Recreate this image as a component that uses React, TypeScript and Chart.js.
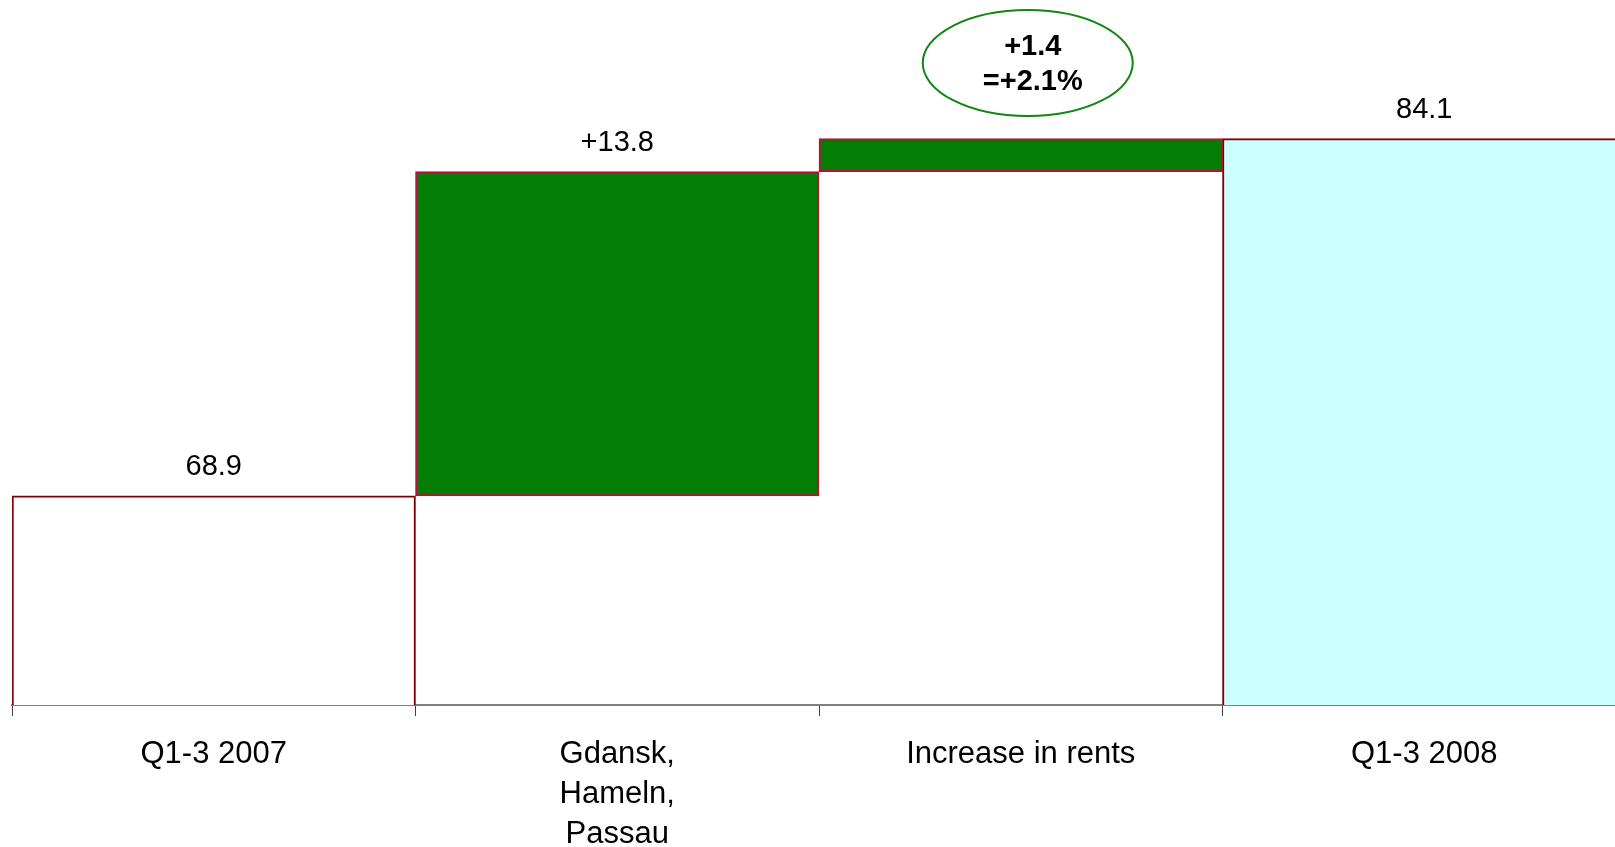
import React, { useEffect, useRef } from "react";
import { Chart, registerables } from "chart.js";

Chart.register(...registerables);

// Waterfall: rental income Q1-3 2007 -> Q1-3 2008
const categories: string[][] = [
  ["Q1-3 2007"],
  ["Gdansk,", "Hameln,", "Passau"],
  ["Increase in rents"],
  ["Q1-3 2008"],
];
const barValues = [68.9, 13.8, 1.4, 84.1];
const barKinds = ["total", "delta", "delta", "total"];
const showValueLabel = [true, true, false, true];
const rentIncreasePct = 2.1;
const calloutBarIndex = 2;
const yMin = 60;
const yMax = 90;

const barFills = ["#FFFFFF", "#037D03", "#037D03", "#CCFFFF"];
const barBorders = ["#800000", "#B8103A", "#B8103A", "#800000"];

const FONT = "'Liberation Sans', Arial, Helvetica, sans-serif";

// totals stand on the axis, deltas float from the running total
function buildBars(): (number | [number, number])[] {
  let running = 0;
  return barValues.map((v, i) => {
    if (barKinds[i] === "total") {
      running = v;
      return v;
    }
    const start = running;
    running = Math.round((running + v) * 10) / 10;
    return [start, running] as [number, number];
  });
}

const valueLabels = barValues.map((v, i) =>
  barKinds[i] === "delta" ? "+" + v.toFixed(1) : v.toFixed(1)
);
const calloutLines = [
  "+" + barValues[calloutBarIndex].toFixed(1),
  "=+" + rentIncreasePct.toFixed(1) + "%",
];

const waterfallText = {
  id: "waterfallText",
  afterDatasetsDraw(chart: any) {
    const ctx: CanvasRenderingContext2D = chart.ctx;
    const meta = chart.getDatasetMeta(0);
    ctx.save();
    ctx.fillStyle = "#000000";
    ctx.textAlign = "center";
    ctx.textBaseline = "alphabetic";
    ctx.font = `29px ${FONT}`;
    meta.data.forEach((bar: any, i: number) => {
      if (!showValueLabel[i]) return;
      const { x, y } = bar.getProps(["x", "y"], true);
      ctx.fillText(valueLabels[i], x, y - 21);
    });

    // callout ellipse above the rent increase bar
    const cb = meta.data[calloutBarIndex].getProps(["x"], true);
    const cx = cb.x + 7;
    const cy = chart.chartArea.top + 63;
    ctx.beginPath();
    ctx.ellipse(cx, cy, 105, 53, 0, 0, Math.PI * 2);
    ctx.strokeStyle = "#118611";
    ctx.lineWidth = 2;
    ctx.stroke();
    ctx.font = `bold 29px ${FONT}`;
    ctx.fillText(calloutLines[0], cx + 5, cy - 8);
    ctx.fillText(calloutLines[1], cx + 5, cy + 27);
    ctx.restore();
  },
};

export default function App() {
  const canvasRef = useRef<HTMLCanvasElement | null>(null);

  useEffect(() => {
    if (!canvasRef.current) return;
    const chart = new Chart(canvasRef.current, {
      type: "bar",
      data: {
        labels: categories as any,
        datasets: [
          {
            data: buildBars() as any,
            backgroundColor: barFills,
            borderColor: barBorders,
            borderWidth: 2,
            borderSkipped: false,
            barPercentage: 1,
            categoryPercentage: 1,
          },
        ],
      },
      options: {
        responsive: false,
        animation: false,
        events: [],
        layout: { padding: { left: 12, right: 14, top: 0, bottom: 0 } },
        plugins: {
          legend: { display: false },
          tooltip: { enabled: false },
        },
        scales: {
          x: {
            offset: true,
            afterFit(scale: any) {
              scale.height = 142;
            },
            grid: {
              display: true,
              offset: true,
              drawOnChartArea: false,
              drawTicks: true,
              tickLength: 11,
              color: "#404040",
              lineWidth: 1,
            },
            border: { display: true, color: "#808080", width: 2 },
            ticks: {
              color: "#000000",
              font: { family: FONT, size: 31, lineHeight: 1.28 },
              padding: 19,
              maxRotation: 0,
              minRotation: 0,
              autoSkip: false,
            },
          },
          y: {
            display: false,
            min: yMin,
            max: yMax,
          },
        },
      },
      plugins: [waterfallText],
    });
    return () => chart.destroy();
  }, []);

  return (
    <div
      style={{
        position: "fixed",
        left: 0,
        top: 0,
        width: 1615,
        height: 847,
        overflow: "hidden",
        background: "#ffffff",
      }}
    >
      <canvas
        ref={canvasRef}
        width={1640}
        height={847}
        style={{ display: "block", width: 1640, height: 847 }}
      />
    </div>
  );
}
